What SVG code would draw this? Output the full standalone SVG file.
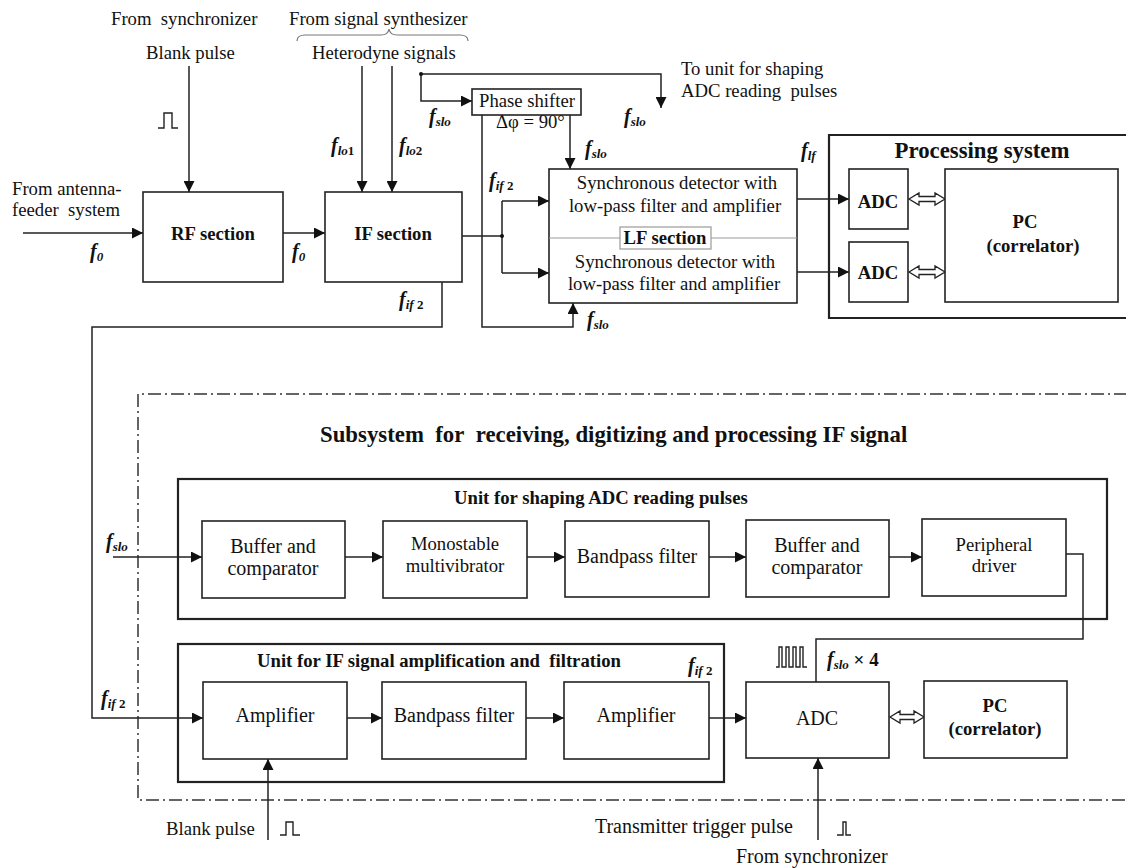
<svg xmlns="http://www.w3.org/2000/svg" width="1126" height="868" viewBox="0 0 1126 868" font-family="'Liberation Serif', 'Times New Roman', serif">
<defs>
<marker id="arr" viewBox="0 0 10 10" refX="10" refY="5" markerWidth="11" markerHeight="11" markerUnits="userSpaceOnUse" orient="auto"><path d="M0,0 L10,5 L0,10 z" fill="#111"/></marker>
<style>
text{font-family:'Liberation Serif','Times New Roman',serif;fill:#111}
.t{font-size:18.7px}
.tb{font-size:20px}
.b{font-size:18.7px;font-weight:bold}
.h{font-size:22.8px;font-weight:bold}
.m{text-anchor:middle}
.lab{font-size:20px;font-weight:bold;font-style:italic}
.sub{font-size:13px}
.up{font-style:normal}
.box{fill:#fff;stroke:#222;stroke-width:1.6}
.unit{fill:none;stroke:#222;stroke-width:2.2}
.c{fill:none;stroke:#222;stroke-width:1.5}
.ca{fill:none;stroke:#222;stroke-width:1.5;marker-end:url(#arr)}
.dbl{fill:#fff;stroke:#222;stroke-width:1.3}
.pulse{fill:none;stroke:#222;stroke-width:1.4}
</style>
</defs>

<!-- free labels -->
<g id="labels">
<text class="t" x="111" y="25">From&#160; synchronizer</text>
<text class="t" x="146" y="59">Blank pulse</text>
<text class="t" x="289" y="25">From signal synthesizer</text>
<path d="M297,41 Q297,35 305,35 L381,35 Q388,35 389,29 Q390,35 397,35 L460,35 Q468,35 468,41" fill="none" stroke="#777" stroke-width="1.2"/>
<text class="t" x="312" y="59">Heterodyne signals</text>
<text class="t" x="12" y="195">From antenna-</text>
<text class="t" x="12" y="216">feeder&#160; system</text>
<text class="t" x="681" y="75">To unit for shaping</text>
<text class="t" x="681" y="97">ADC reading&#160; pulses</text>
<text class="t" x="496" y="128">Δφ = 90°</text>
<text class="lab" x="90" y="258">f<tspan class="sub" dy="3">0</tspan></text>
<text class="lab" x="292" y="258">f<tspan class="sub" dy="3">0</tspan></text>
<text class="lab" x="331" y="152">f<tspan class="sub" dy="3">lo</tspan><tspan class="sub up">1</tspan></text>
<text class="lab" x="399" y="152">f<tspan class="sub" dy="3">lo</tspan><tspan class="sub up">2</tspan></text>
<text class="lab" x="429" y="123">f<tspan class="sub" dy="3">slo</tspan></text>
<text class="lab" x="624" y="123">f<tspan class="sub" dy="3">slo</tspan></text>
<text class="lab" x="585" y="155">f<tspan class="sub" dy="3">slo</tspan></text>
<text class="lab" x="489" y="187">f<tspan class="sub" dy="3">if</tspan><tspan class="sub up">&#160;2</tspan></text>
<text class="lab" x="587" y="326">f<tspan class="sub" dy="3">slo</tspan></text>
<text class="lab" x="801" y="157">f<tspan class="sub" dy="3">lf</tspan></text>
<text class="lab" x="399" y="306">f<tspan class="sub" dy="3">if</tspan><tspan class="sub up">&#160;2</tspan></text>
<text class="lab" x="106" y="548">f<tspan class="sub" dy="3">slo</tspan></text>
<text class="lab" x="101" y="705">f<tspan class="sub" dy="3">if</tspan><tspan class="sub up">&#160;2</tspan></text>
<text class="lab" x="688" y="672">f<tspan class="sub" dy="3">if</tspan><tspan class="sub up">&#160;2</tspan></text>
<text class="lab" x="827" y="666">f<tspan class="sub" dy="3">slo</tspan><tspan class="up" dy="-3" font-size="19">&#160;× 4</tspan></text>
<text class="t" x="166" y="835">Blank pulse</text>
<text class="tb" x="793" y="833" text-anchor="end">Transmitter trigger pulse</text>
<text class="tb" x="736" y="863" font-size="19.7">From synchronizer</text>
<polyline class="pulse" points="158,128 164,128 164,113 172,113 172,128 178,128"/>
<polyline class="pulse" points="280,835 286,835 286,822 293,822 293,835 300,835"/>
<polyline class="pulse" points="837,835 843,835 843,822 846,822 846,835 851,835"/>
<polyline class="pulse" points="776,667 779,667 779,647 782,647 782,667 786,667 786,647 789,647 789,667 793,667 793,647 796,647 796,667 800,667 800,647 803,647 803,667 807,667"/>
</g>

<!-- containers -->
<g id="processing-system">
<path class="unit" d="M1127,135 H829 V318 H1127" stroke-width="1.8"/>
<text class="h m" x="982" y="158">Processing system</text>
</g>
<g id="subsystem">
<path d="M1127,394 H138 V800 H1127" fill="none" stroke="#333" stroke-width="1.5" stroke-dasharray="13 4 2 4"/>
<text class="h" x="320" y="442">Subsystem&#160; for&#160; receiving, digitizing and processing IF signal</text>
</g>
<g id="shaping-unit">
<rect class="unit" x="178" y="479" width="929" height="140"/>
<text class="b" x="454" y="504">Unit for shaping ADC reading pulses</text>
</g>
<g id="if-unit">
<rect class="unit" x="178" y="644" width="546" height="138"/>
<text class="b" x="257" y="667">Unit for IF signal amplification and&#160; filtration</text>
</g>

<!-- connectors -->
<g id="connectors">
<path class="ca" d="M23,233 H143"/>
<path class="ca" d="M189,66 V192"/>
<path class="ca" d="M283,233 H325"/>
<path class="ca" d="M362,66 V192"/>
<path class="ca" d="M392,66 V192"/>
<path class="ca" d="M421,74 V101 H472"/>
<path class="ca" d="M421,74 H661 V108"/>
<path class="ca" d="M570,115 V169"/>
<path class="ca" d="M482,115 V327 H573 V303"/>
<path class="c" d="M462,236 H502 M502,201 V273"/>
<path class="ca" d="M502,201 H549"/>
<path class="ca" d="M502,273 H549"/>
<path class="ca" d="M797,199 H849"/>
<path class="ca" d="M797,272 H849"/>
<path class="ca" d="M442,282 V327 H92 V718 H203"/>
<path class="ca" d="M113,557 H202"/>
<path class="ca" d="M345,557 H383"/>
<path class="ca" d="M527,557 H565"/>
<path class="ca" d="M709,557 H746"/>
<path class="ca" d="M889,557 H922"/>
<path class="c" d="M1066,554 H1083 V639 H816 V682"/>
<path class="ca" d="M347,718 H382"/>
<path class="ca" d="M526,718 H564"/>
<path class="ca" d="M709,718 H746"/>
<path class="ca" d="M268,840 V759"/>
<path class="ca" d="M818,840 V758"/>
<circle cx="421" cy="74" r="2" fill="#111"/>
<circle cx="502" cy="236" r="2" fill="#111"/>
<polygon class="dbl" points="909,199 919,193 919,196.5 935,196.5 935,193 945,199 935,205 935,201.5 919,201.5 919,205"/>
<polygon class="dbl" points="909,272 919,266 919,269.5 935,269.5 935,266 945,272 935,278 935,274.5 919,274.5 919,278"/>
<polygon class="dbl" points="890,717 900,711 900,714.5 914,714.5 914,711 924,717 914,723 914,719.5 900,719.5 900,723"/>
</g>

<!-- nodes -->
<g id="rf-section">
<rect class="box" x="143" y="192" width="140" height="90"/>
<text class="b m" x="213" y="240">RF section</text>
</g>
<g id="if-section">
<rect class="box" x="325" y="192" width="137" height="90"/>
<text class="b m" x="393" y="240">IF section</text>
</g>
<g id="phase-shifter">
<rect class="box" x="472" y="89" width="109" height="26"/>
<text class="t m" x="527" y="107">Phase shifter</text>
</g>
<g id="lf-section">
<rect class="box" x="549" y="169" width="248" height="134"/>
<line x1="549" y1="238" x2="797" y2="238" stroke="#999" stroke-width="1.2"/>
<rect x="620" y="227" width="91" height="22" fill="#fff" stroke="#999" stroke-width="1.2"/>
<text class="b m" x="665" y="244">LF section</text>
<text class="t m" x="677" y="189">Synchronous detector with</text>
<text class="t m" x="675" y="212">low-pass filter and amplifier</text>
<text class="t m" x="675" y="268">Synchronous detector with</text>
<text class="t m" x="674" y="290">low-pass filter and amplifier</text>
</g>
<g id="adc-1">
<rect class="box" x="849" y="169" width="59" height="60"/>
<text class="b m" x="878" y="208">ADC</text>
</g>
<g id="adc-2">
<rect class="box" x="849" y="242" width="59" height="60"/>
<text class="b m" x="878" y="279">ADC</text>
</g>
<g id="pc-top">
<rect class="box" x="945" y="169" width="173" height="133"/>
<text class="b m" x="1025" y="228">PC</text>
<text class="b m" x="1033" y="252">(correlator)</text>
</g>
<g id="buffer-comparator-1">
<rect class="box" x="202" y="521" width="143" height="77"/>
<text class="tb m" x="273" y="553">Buffer and</text>
<text class="tb m" x="273" y="575">comparator</text>
</g>
<g id="monostable">
<rect class="box" x="383" y="521" width="144" height="77"/>
<text class="t m" x="455" y="550">Monostable</text>
<text class="t m" x="455" y="572">multivibrator</text>
</g>
<g id="bandpass-1">
<rect class="box" x="565" y="521" width="144" height="76"/>
<text class="tb m" x="637" y="563">Bandpass filter</text>
</g>
<g id="buffer-comparator-2">
<rect class="box" x="746" y="520" width="143" height="77"/>
<text class="tb m" x="817" y="552">Buffer and</text>
<text class="tb m" x="817" y="574">comparator</text>
</g>
<g id="peripheral-driver">
<rect class="box" x="922" y="519" width="144" height="77"/>
<text class="t m" x="994" y="551">Peripheral</text>
<text class="t m" x="994" y="572">driver</text>
</g>
<g id="amplifier-1">
<rect class="box" x="203" y="682" width="144" height="77"/>
<text class="tb m" x="275" y="722">Amplifier</text>
</g>
<g id="bandpass-2">
<rect class="box" x="382" y="682" width="144" height="77"/>
<text class="tb m" x="454" y="722">Bandpass filter</text>
</g>
<g id="amplifier-2">
<rect class="box" x="564" y="682" width="145" height="77"/>
<text class="tb m" x="636" y="722">Amplifier</text>
</g>
<g id="adc-bottom">
<rect class="box" x="746" y="682" width="143" height="76"/>
<text class="tb m" x="817" y="725">ADC</text>
</g>
<g id="pc-bottom">
<rect class="box" x="924" y="681" width="143" height="77"/>
<text class="b m" x="995" y="712">PC</text>
<text class="b m" x="995" y="735">(correlator)</text>
</g>
</svg>
